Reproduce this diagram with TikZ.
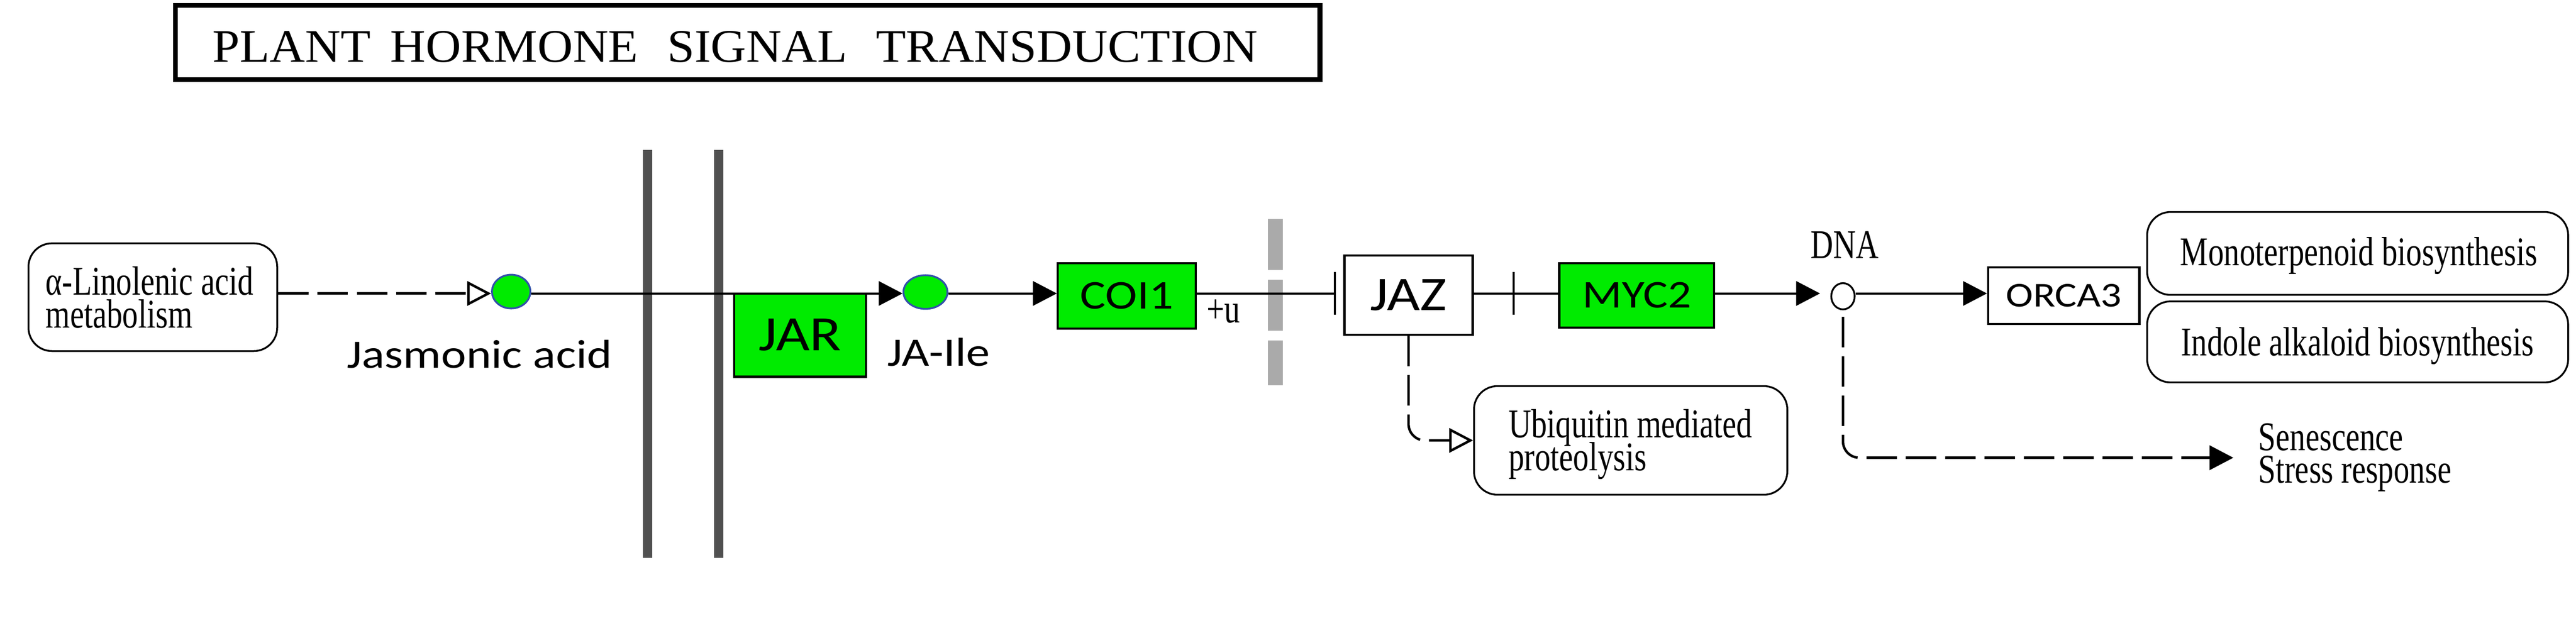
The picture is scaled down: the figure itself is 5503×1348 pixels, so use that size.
\documentclass[tikz,border=0pt]{standalone}
\usepackage{fontspec}
\usepackage{graphicx}
\usetikzlibrary{arrows.meta,shapes.geometric}
\newfontfamily\kserif[FakeStretch=0.77]{Liberation Serif}
\newfontfamily\ktitle[FakeStretch=1.05]{Liberation Serif}
\newfontfamily\ksans[FakeStretch=1.18]{Carlito}
\definecolor{kgreen}{RGB}{0,235,0}
\definecolor{kblue}{RGB}{50,80,170}
\definecolor{kdark}{RGB}{80,80,80}
\definecolor{klight}{RGB}{170,170,170}
\newcommand{\ktwo}[2]{\vtop{\baselineskip=19.9pt\lineskiplimit=-\maxdimen\hbox{#1}\hbox{#2}}}
\begin{document}
\begin{tikzpicture}[x=0.01cm,y=-0.01cm,
  serif/.style={font=\kserif\fontsize{24.8}{19.9}\selectfont, inner sep=0pt},
  sans/.style={font=\ksans\fontsize{24.5}{24.5}\selectfont, inner sep=0pt},
  rbox/.style={draw, line width=1.1pt, rounded corners=0.5cm, fill=white, inner sep=0pt},
  gene/.style={draw, line width=1.3pt, fill=kgreen, inner sep=0pt},
  wgene/.style={draw, line width=1.3pt, fill=white, inner sep=0pt},
  met/.style={ellipse, draw=kblue, line width=1.1pt, fill=kgreen, inner sep=0pt},
  link/.style={line width=1.2pt},
  dlink/.style={line width=1.5pt, dash pattern=on 18.5pt off 5.4pt},
  tipf/.style={-{Triangle[length=14.5pt,width=14.8pt]}},
  tipo/.style={-{Triangle[open,length=14.5pt,width=14.8pt]}},
  tipb/.style={-{Bar[width=26pt]}}
]
\useasboundingbox (0,0) rectangle (5503,1348);
\fill[white] (0,0) rectangle (5503,1348);

% title
\node[draw, line width=2.85pt, minimum width=24.44cm, minimum height=1.58cm, inner sep=0pt] (tbox) at (1597,91) {};
\node[font=\ktitle\fontsize{28.4}{28.4}\selectfont, inner sep=0pt, anchor=base west] (ttl) at (453,133)
  {PLANT\hspace{12pt}HORMONE\hspace{17.5pt}SIGNAL\hspace{17.5pt}TRANSDUCTION};

% membranes
\fill[kdark] (1373,320) rectangle (1393,1192);
\fill[kdark] (1525,320) rectangle (1545,1192);
\fill[klight] (2709,468) rectangle (2740,577);
\fill[klight] (2709,598) rectangle (2740,707);
\fill[klight] (2709,728) rectangle (2740,823);

\coordinate (ax) at (0,627);

% alpha-linolenic
\node[rbox, minimum width=5.31cm, minimum height=2.30cm] (abox) at (326.5,635) {};
\node[serif, anchor=base west] (atxt) at (97,630) {\ktwo{α-Linolenic acid}{metabolism}};

% jasmonic acid
\node[met, minimum width=0.82cm, minimum height=0.72cm] (jac) at (1092,623) {};
\node[sans, anchor=base west] (jatxt) at (740,786) {Jasmonic acid};

% JAR
\node[gene, minimum width=2.82cm, minimum height=1.78cm, font=\ksans\fontsize{30}{30}\selectfont] (jar) at (1709,716) {JAR};

% JA-Ile
\node[met, minimum width=0.94cm, minimum height=0.72cm] (jaile) at (1977,624) {};
\node[sans, anchor=base west] (jailetxt) at (1895,782) {JA-Ile};

% COI1
\node[gene, minimum width=2.94cm, minimum height=1.40cm, font=\ksans\fontsize{24.8}{24.8}\selectfont] (coi) at (2407,632) {COI1};
\node[serif, anchor=base west] (plusu) at (2577,690) {+u};

% JAZ
\node[wgene, minimum width=2.74cm, minimum height=1.69cm, font=\ksans\fontsize{29.3}{29.3}\selectfont] (jaz) at (3009,630.5) {JAZ};

% MYC2
\node[gene, minimum width=3.31cm, minimum height=1.38cm, font=\ksans\fontsize{23.9}{23.9}\selectfont] (myc) at (3496.5,631) {MYC2};
\coordinate (inh) at (3236,627);

% DNA
\node[ellipse, draw, line width=1.1pt, fill=white, minimum width=0.50cm, minimum height=0.56cm, inner sep=0pt] (dna) at (3937,633) {};
\node[serif, anchor=base] (dnatxt) at (3941,552) {DNA};

% ORCA3
\node[wgene, minimum width=3.23cm, minimum height=1.21cm, font=\ksans\fontsize{21.2}{21.2}\selectfont] (orca) at (4408.5,631.5) {ORCA3};

% pathway boxes
\node[rbox, minimum width=8.99cm, minimum height=1.77cm] (mono) at (5036.5,541.5) {};
\node[serif, anchor=base] (monotxt) at (5039,567) {Monoterpenoid biosynthesis};
\node[rbox, minimum width=8.99cm, minimum height=1.73cm] (indole) at (5036.5,730.5) {};
\node[serif, anchor=base] (indoletxt) at (5036,760) {Indole alkaloid biosynthesis};
\node[rbox, minimum width=6.69cm, minimum height=2.32cm] (ubq) at (3483.5,941) {};
\node[serif, anchor=base west] (ubqtxt) at (3222,935) {\ktwo{Ubiquitin mediated}{proteolysis}};

% outputs
\node[serif, anchor=base west] (sentxt) at (4824,962) {\ktwo{Senescence}{Stress response}};
\coordinate (senin) at (4771,978);

% connectors
\draw[dlink, tipo] (abox.east |- ax) -- (jac.west |- ax);
\draw[link, tipf] (jac.east |- ax) -- (jaile.west |- ax);
\draw[link, tipf] (jaile.east |- ax) -- (coi.west |- ax);
\draw[link, tipb, shorten >=0.16cm] (coi.east |- ax) -- (jaz.west |- ax);
\draw[link, tipb] (jaz.east |- ax) -- (inh);
\draw[link] (inh) -- (myc.west |- ax);
\draw[link, tipf, shorten >=0.22cm] (myc.east |- ax) -- (dna.west |- ax);
\draw[link, tipf] (dna.east |- ax) -- (orca.west |- ax);
\draw[dlink, tipo, rounded corners=0.35cm] (jaz.south) |- (ubq.west);
\draw[dlink, tipf, rounded corners=0.35cm] ([yshift=-4pt]dna.south) |- (senin);
\end{tikzpicture}
\end{document}
